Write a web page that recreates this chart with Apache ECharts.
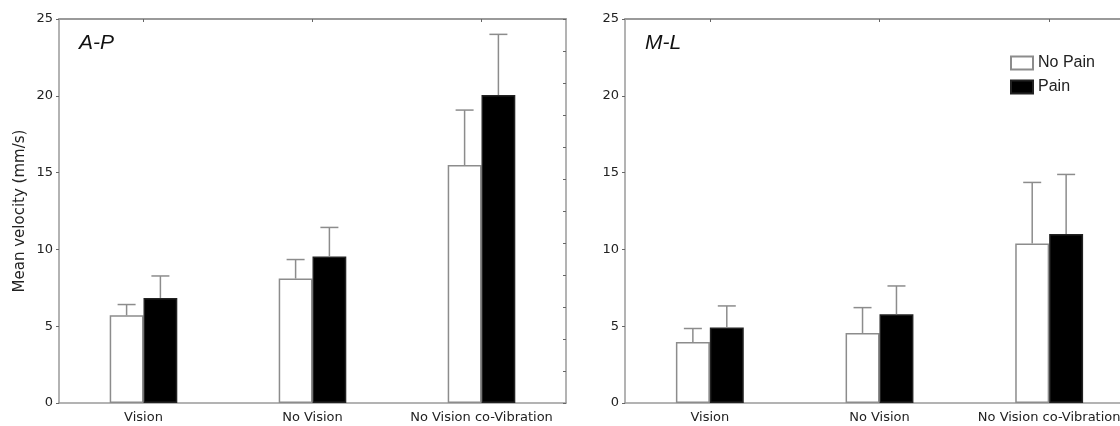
<!DOCTYPE html>
<html>
<head>
<meta charset="utf-8">
<script src="https://cdn.jsdelivr.net/npm/echarts@6/dist/echarts.min.js"></script>
<style>html,body{margin:0;padding:0;background:#fff;overflow:hidden}#c{width:1140px;height:426px}</style>
</head>
<body>
<div id="c"></div>
<script>
const categories = ['Vision', 'No Vision', 'No Vision co-Vibration'];
const yTicks = [0, 5, 10, 15, 20, 25];
// A-P panel
const apNoPain = [5.71, 8.10, 15.49];
const apNoPainUpper = [6.41, 9.34, 19.07];
const apPain = [6.84, 9.54, 20.05];
const apPainUpper = [8.27, 11.43, 24.0];
// M-L panel
const mlNoPain = [3.97, 4.56, 10.38];
const mlNoPainUpper = [4.85, 6.21, 14.36];
const mlPain = [4.91, 5.78, 11.01];
const mlPainUpper = [6.32, 7.62, 14.88];

const FONT = 'DejaVu Sans, sans-serif';
const LFONT = 'Liberation Sans, Arial, sans-serif';
const AXC = '#9a9a9a';
const ERRC = '#8c8c8c';

function errData(means, uppers) {
  return means.map((m, i) => [i, m, uppers[i]]);
}
function errSeries(means, uppers, side, xi, yi) {
  return {
    type: 'custom', xAxisIndex: xi, yAxisIndex: yi, z: 5, silent: true,
    data: errData(means, uppers),
    encode: { x: 0, y: [1, 2] },
    renderItem: function (params, api) {
      const i = api.value(0);
      const band = api.size([1, 0])[0];
      const base = api.coord([i, api.value(1)]);
      const top = api.coord([i, api.value(2)]);
      const cx = base[0] + side * band * 0.1;
      const cap = 9;
      return {
        type: 'group',
        children: [
          { type: 'line', shape: { x1: cx, y1: base[1], x2: cx, y2: top[1] }, style: { stroke: ERRC, lineWidth: 1.5 } },
          { type: 'line', shape: { x1: cx - cap, y1: top[1], x2: cx + cap, y2: top[1] }, style: { stroke: ERRC, lineWidth: 1.5 } }
        ]
      };
    }
  };
}

const grids = [
  { left: 59, top: 19, width: 507, height: 384 },
  { left: 625, top: 19, width: 509, height: 384 }
];

const xAxes = [];
const yAxes = [];
[0, 1].forEach(g => {
  xAxes.push({
    type: 'category', gridIndex: g, data: categories, position: 'bottom',
    axisLine: { onZero: false, lineStyle: { color: AXC, width: 1.5 } },
    axisTick: { show: false },
    axisLabel: { interval: 0, color: '#222', fontFamily: FONT, fontSize: 13, margin: 8 }
  });
  xAxes.push({
    type: 'category', gridIndex: g, data: categories, position: 'top',
    axisLine: { onZero: false, lineStyle: { color: AXC, width: 2 } },
    axisTick: { show: true, inside: true, alignWithLabel: true, interval: 0, length: 3, lineStyle: { color: '#666' } },
    axisLabel: { show: false }
  });
  yAxes.push({
    type: 'value', gridIndex: g, min: yTicks[0], max: yTicks[yTicks.length - 1], interval: 5,
    position: 'left',
    axisLine: { show: true, onZero: false, lineStyle: { color: AXC, width: 1.5 } },
    axisTick: { show: true, length: 3, lineStyle: { color: '#666' } },
    splitLine: { show: false },
    axisLabel: { color: '#222', fontFamily: FONT, fontSize: 13, margin: 6 },
    name: g === 0 ? 'Mean velocity (mm/s)' : '',
    nameLocation: 'middle', nameGap: 31,
    nameTextStyle: { color: '#222', fontFamily: FONT, fontSize: 15 }
  });
  yAxes.push({
    type: 'value', gridIndex: g, min: 0, max: 12, interval: 1, position: 'right',
    axisLine: { show: true, onZero: false, lineStyle: { color: AXC, width: 1.5 } },
    axisTick: { show: true, inside: true, length: 3, lineStyle: { color: '#666' } },
    splitLine: { show: false },
    axisLabel: { show: false }
  });
});

function barSeries(name, data, color, border, xi, yi) {
  return {
    name: name, type: 'bar', xAxisIndex: xi, yAxisIndex: yi, data: data,
    barWidth: '20%', barGap: '0%',
    itemStyle: { color: color, borderColor: border, borderWidth: 1.5 }
  };
}

const option = {
  backgroundColor: '#fff',
  animation: false,
  grid: grids,
  xAxis: xAxes,
  yAxis: yAxes,
  legend: {
    data: ['No Pain', 'Pain'],
    orient: 'vertical', left: 1005, top: 50,
    itemWidth: 22, itemHeight: 13, itemGap: 8,
    textStyle: { color: '#222', fontFamily: LFONT, fontSize: 16 },
    icon: 'rect'
  },
  graphic: [
    { type: 'text', left: 79, top: 33, style: { text: 'A-P', font: 'italic 21px Liberation Sans, Arial, sans-serif', fill: '#111' } },
    { type: 'text', left: 645, top: 33, style: { text: 'M-L', font: 'italic 21px Liberation Sans, Arial, sans-serif', fill: '#111' } }
  ],
  series: [
    barSeries('No Pain', apNoPain, '#fff', ERRC, 0, 0),
    barSeries('Pain', apPain, '#000', '#222', 0, 0),
    errSeries(apNoPain, apNoPainUpper, -1, 0, 0),
    errSeries(apPain, apPainUpper, 1, 0, 0),
    barSeries('No Pain', mlNoPain, '#fff', ERRC, 2, 2),
    barSeries('Pain', mlPain, '#000', '#222', 2, 2),
    errSeries(mlNoPain, mlNoPainUpper, -1, 2, 2),
    errSeries(mlPain, mlPainUpper, 1, 2, 2)
  ]
};

const chart = echarts.init(document.getElementById('c'), null, { renderer: 'canvas' });
chart.setOption(option);
</script>
</body>
</html>
